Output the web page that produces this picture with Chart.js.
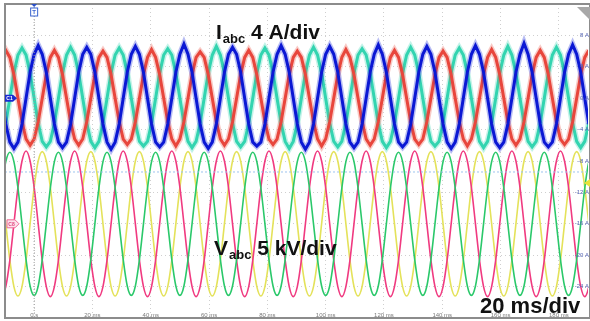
<!DOCTYPE html>
<html>
<head>
<meta charset="utf-8">
<script src="https://cdn.jsdelivr.net/npm/chart.js@4"></script>
<style>
  html, body { margin: 0; padding: 0; background: #fff; }
  #wrap { width: 590px; height: 321px; position: relative; }
</style>
</head>
<body>
<div id="wrap"><canvas id="scope"></canvas></div>
<script>
// scope capture: 12 samples per 60 Hz cycle, first sample at -11.11 ms
const sampleStart = -11.111;
const sampleStep = 1.3889;

const timeTicks = [0, 20, 40, 60, 80, 100, 120, 140, 160, 180];
const timeLabels = ['0 s', '20 ms', '40 ms', '60 ms', '80 ms', '100 ms', '120 ms', '140 ms', '160 ms', '180 ms'];
const ampTicks = [8, 4, 0, -4, -8, -12, -16, -20, -24];
const ampLabels = ['8 A', '4 A', '0 A', '-4 A', '-8 A', '-12 A', '-16 A', '-20 A', '-24 A'];
const trigLevel = -9.4;   // A scale, dotted blue line

// phase currents (A)
const iBlue = [
  0, -3.3, -5.6, -6.4, -5.6, -3.3, 0, 3.3,
  5.6, 6.7, 5.6, 3.3, 0, -3.3, -5.6, -6.3, -5.6, -3.3, 0, 3.3,
  5.6, 6.5, 5.6, 3.3, 0, -3.3, -5.6, -6.5, -5.6, -3.3, 0, 3.3,
  5.6, 6.6, 5.6, 3.3, 0, -3.3, -5.6, -6.2, -5.6, -3.3, 0, 3.3,
  5.6, 6.9, 5.6, 3.3, 0, -3.3, -5.6, -6.4, -5.6, -3.3, 0, 3.3,
  5.6, 6.5, 5.6, 3.3, 0, -3.3, -5.6, -6.1, -5.6, -3.3, 0, 3.3,
  5.6, 6.7, 5.6, 3.3, 0, -3.3, -5.6, -6.5, -5.6, -3.3, 0, 3.3,
  5.6, 6.6, 5.6, 3.3, 0, -3.3, -5.6, -6.3, -5.6, -3.3, 0, 3.3,
  5.6, 6.8, 5.6, 3.3, 0, -3.3, -5.6, -6.2, -5.6, -3.3, 0, 3.3,
  5.6, 6.6, 5.6, 3.3, 0, -3.3, -5.6, -6.4, -5.6, -3.3, 0, 3.3,
  5.6, 6.7, 5.6, 3.3, 0, -3.3, -5.6, -6.3, -5.6, -3.3, 0, 3.3,
  5.6, 7.0, 5.6, 3.3, 0, -3.3, -5.6, -6.2, -5.6, -3.3, 0, 3.3,
  5.6, 6.8, 5.6, 3.3, 0, -3.3, -5.6
];
const iTeal = [
  -5.5, -3.2, 0, 3.2, 5.5, 6.4, 5.5, 3.2,
  0, -3.2, -5.5, -6.2, -5.5, -3.2, 0, 3.2, 5.5, 6.5, 5.5, 3.2,
  0, -3.2, -5.5, -6.3, -5.5, -3.2, 0, 3.2, 5.5, 6.4, 5.5, 3.2,
  0, -3.2, -5.5, -6.1, -5.5, -3.2, 0, 3.2, 5.5, 6.3, 5.5, 3.2,
  0, -3.2, -5.5, -6.3, -5.5, -3.2, 0, 3.2, 5.5, 6.6, 5.5, 3.2,
  0, -3.2, -5.5, -6.2, -5.5, -3.2, 0, 3.2, 5.5, 6.4, 5.5, 3.2,
  0, -3.2, -5.5, -6.4, -5.5, -3.2, 0, 3.2, 5.5, 6.5, 5.5, 3.2,
  0, -3.2, -5.5, -6.2, -5.5, -3.2, 0, 3.2, 5.5, 6.3, 5.5, 3.2,
  0, -3.2, -5.5, -6.3, -5.5, -3.2, 0, 3.2, 5.5, 6.5, 5.5, 3.2,
  0, -3.2, -5.5, -6.1, -5.5, -3.2, 0, 3.2, 5.5, 6.4, 5.5, 3.2,
  0, -3.2, -5.5, -6.3, -5.5, -3.2, 0, 3.2, 5.5, 6.6, 5.5, 3.2,
  0, -3.2, -5.5, -6.2, -5.5, -3.2, 0, 3.2, 5.5, 6.5, 5.5, 3.2,
  0, -3.2, -5.5, -6.3, -5.5, -3.2, 0
];
const iRed = [
  5.2, 6.1, 5.2, 3.0, 0, -3.0, -5.2, -6.0,
  -5.2, -3.0, 0, 3.0, 5.2, 6.1, 5.2, 3.0, 0, -3.0, -5.2, -6.0,
  -5.2, -3.0, 0, 3.0, 5.2, 6.0, 5.2, 3.0, 0, -3.0, -5.2, -5.9,
  -5.2, -3.0, 0, 3.0, 5.2, 6.2, 5.2, 3.0, 0, -3.0, -5.2, -6.1,
  -5.2, -3.0, 0, 3.0, 5.2, 5.9, 5.2, 3.0, 0, -3.0, -5.2, -6.0,
  -5.2, -3.0, 0, 3.0, 5.2, 6.1, 5.2, 3.0, 0, -3.0, -5.2, -5.9,
  -5.2, -3.0, 0, 3.0, 5.2, 6.0, 5.2, 3.0, 0, -3.0, -5.2, -6.1,
  -5.2, -3.0, 0, 3.0, 5.2, 6.2, 5.2, 3.0, 0, -3.0, -5.2, -6.0,
  -5.2, -3.0, 0, 3.0, 5.2, 6.1, 5.2, 3.0, 0, -3.0, -5.2, -5.9,
  -5.2, -3.0, 0, 3.0, 5.2, 6.0, 5.2, 3.0, 0, -3.0, -5.2, -6.1,
  -5.2, -3.0, 0, 3.0, 5.2, 6.2, 5.2, 3.0, 0, -3.0, -5.2, -6.0,
  -5.2, -3.0, 0, 3.0, 5.2, 6.1, 5.2, 3.0, 0, -3.0, -5.2, -5.9,
  -5.2, -3.0, 0, 3.0, 5.2, 6.1, 5.2
];

// phase voltages (kV)
const vGreen = [
  5.7, 9.9, 11.4, 9.9, 5.7, 0, -5.7, -9.9,
  -11.4, -9.9, -5.7, 0, 5.7, 9.9, 11.4, 9.9, 5.7, 0, -5.7, -9.9,
  -11.4, -9.9, -5.7, 0, 5.7, 9.9, 11.4, 9.9, 5.7, 0, -5.7, -9.9,
  -11.4, -9.9, -5.7, 0, 5.7, 9.9, 11.4, 9.9, 5.7, 0, -5.7, -9.9,
  -11.4, -9.9, -5.7, 0, 5.7, 9.9, 11.4, 9.9, 5.7, 0, -5.7, -9.9,
  -11.4, -9.9, -5.7, 0, 5.7, 9.9, 11.4, 9.9, 5.7, 0, -5.7, -9.9,
  -11.4, -9.9, -5.7, 0, 5.7, 9.9, 11.4, 9.9, 5.7, 0, -5.7, -9.9,
  -11.4, -9.9, -5.7, 0, 5.7, 9.9, 11.4, 9.9, 5.7, 0, -5.7, -9.9,
  -11.4, -9.9, -5.7, 0, 5.7, 9.9, 11.4, 9.9, 5.7, 0, -5.7, -9.9,
  -11.4, -9.9, -5.7, 0, 5.7, 9.9, 11.4, 9.9, 5.7, 0, -5.7, -9.9,
  -11.4, -9.9, -5.7, 0, 5.7, 9.9, 11.4, 9.9, 5.7, 0, -5.7, -9.9,
  -11.4, -9.9, -5.7, 0, 5.7, 9.9, 11.4, 9.9, 5.7, 0, -5.7, -9.9,
  -11.4, -9.9, -5.7, 0, 5.7, 9.9, 11.4
];
const vYellow = [
  5.8, 0, -5.8, -10, -11.5, -10, -5.8, 0,
  5.8, 10, 11.5, 10, 5.8, 0, -5.8, -10, -11.5, -10, -5.8, 0,
  5.8, 10, 11.5, 10, 5.8, 0, -5.8, -10, -11.5, -10, -5.8, 0,
  5.8, 10, 11.5, 10, 5.8, 0, -5.8, -10, -11.5, -10, -5.8, 0,
  5.8, 10, 11.5, 10, 5.8, 0, -5.8, -10, -11.5, -10, -5.8, 0,
  5.8, 10, 11.5, 10, 5.8, 0, -5.8, -10, -11.5, -10, -5.8, 0,
  5.8, 10, 11.5, 10, 5.8, 0, -5.8, -10, -11.5, -10, -5.8, 0,
  5.8, 10, 11.5, 10, 5.8, 0, -5.8, -10, -11.5, -10, -5.8, 0,
  5.8, 10, 11.5, 10, 5.8, 0, -5.8, -10, -11.5, -10, -5.8, 0,
  5.8, 10, 11.5, 10, 5.8, 0, -5.8, -10, -11.5, -10, -5.8, 0,
  5.8, 10, 11.5, 10, 5.8, 0, -5.8, -10, -11.5, -10, -5.8, 0,
  5.8, 10, 11.5, 10, 5.8, 0, -5.8, -10, -11.5, -10, -5.8, 0,
  5.8, 10, 11.5, 10, 5.8, 0, -5.8
];
const vPink = [
  -11.6, -10, -5.8, 0, 5.8, 10, 11.6, 10,
  5.8, 0, -5.8, -10, -11.6, -10, -5.8, 0, 5.8, 10, 11.6, 10,
  5.8, 0, -5.8, -10, -11.6, -10, -5.8, 0, 5.8, 10, 11.6, 10,
  5.8, 0, -5.8, -10, -11.6, -10, -5.8, 0, 5.8, 10, 11.6, 10,
  5.8, 0, -5.8, -10, -11.6, -10, -5.8, 0, 5.8, 10, 11.6, 10,
  5.8, 0, -5.8, -10, -11.6, -10, -5.8, 0, 5.8, 10, 11.6, 10,
  5.8, 0, -5.8, -10, -11.6, -10, -5.8, 0, 5.8, 10, 11.6, 10,
  5.8, 0, -5.8, -10, -11.6, -10, -5.8, 0, 5.8, 10, 11.6, 10,
  5.8, 0, -5.8, -10, -11.6, -10, -5.8, 0, 5.8, 10, 11.6, 10,
  5.8, 0, -5.8, -10, -11.6, -10, -5.8, 0, 5.8, 10, 11.6, 10,
  5.8, 0, -5.8, -10, -11.6, -10, -5.8, 0, 5.8, 10, 11.6, 10,
  5.8, 0, -5.8, -10, -11.6, -10, -5.8, 0, 5.8, 10, 11.6, 10,
  5.8, 0, -5.8, -10, -11.6, -10, -5.8
];

function toPoints(vals) {
  return vals.map((v, i) => ({ x: sampleStart + i * sampleStep, y: v }));
}

function currentSet(vals, color, glow) {
  return [
    { data: toPoints(vals), yAxisID: 'y', borderColor: color, borderWidth: 3, tension: 0 },
    { data: toPoints(vals), yAxisID: 'y', borderColor: glow, borderWidth: 6, tension: 0 }
  ];
}

function voltageSet(vals, color) {
  return { data: toPoints(vals), yAxisID: 'yV', borderColor: color, borderWidth: 1.6, cubicInterpolationMode: 'monotone' };
}

const FONT = '"Liberation Sans", Arial, sans-serif';

function drawTag(ctx, x, y, w, h, fill, stroke, text, textColor) {
  ctx.beginPath();
  ctx.moveTo(x, y - h / 2);
  ctx.lineTo(x + w - 4, y - h / 2);
  ctx.lineTo(x + w, y);
  ctx.lineTo(x + w - 4, y + h / 2);
  ctx.lineTo(x, y + h / 2);
  ctx.closePath();
  ctx.fillStyle = fill;
  ctx.fill();
  if (stroke) { ctx.strokeStyle = stroke; ctx.lineWidth = 1; ctx.stroke(); }
  ctx.fillStyle = textColor;
  ctx.font = 'bold 5px ' + FONT;
  ctx.textAlign = 'center';
  ctx.textBaseline = 'middle';
  ctx.fillText(text, x + (w - 3) / 2, y + 0.5);
}

function drawLabel(ctx, x, y, main, sub, rest, size) {
  ctx.fillStyle = '#111';
  ctx.textAlign = 'left';
  ctx.textBaseline = 'alphabetic';
  ctx.font = 'bold ' + size + 'px ' + FONT;
  ctx.fillText(main, x, y);
  let cx = x + ctx.measureText(main).width;
  if (sub) {
    ctx.font = 'bold ' + Math.round(size * 0.62) + 'px ' + FONT;
    ctx.fillText(sub, cx + 1, y + 4);
    cx += ctx.measureText(sub).width + 1;
    ctx.font = 'bold ' + size + 'px ' + FONT;
  }
  ctx.fillText(rest, cx, y);
}

const scopeDecor = {
  id: 'scopeDecor',
  afterDraw(chart) {
    const ctx = chart.ctx;
    const a = chart.chartArea;
    const xs = chart.scales.x, ys = chart.scales.y;
    ctx.save();

    // trigger position line
    const x0 = xs.getPixelForValue(0);
    ctx.strokeStyle = '#9a9a9a';
    ctx.lineWidth = 1;
    ctx.setLineDash([1, 2]);
    ctx.beginPath();
    ctx.moveTo(x0, a.top);
    ctx.lineTo(x0, a.bottom);
    ctx.stroke();

    // trigger level
    const yl = ys.getPixelForValue(trigLevel);
    ctx.strokeStyle = '#9cc3ee';
    ctx.setLineDash([2, 2]);
    ctx.beginPath();
    ctx.moveTo(a.left, yl);
    ctx.lineTo(a.right, yl);
    ctx.stroke();
    ctx.setLineDash([]);

    // frame
    ctx.strokeStyle = '#8c8c8c';
    ctx.lineWidth = 2;
    ctx.strokeRect(a.left, a.top, a.right - a.left + 2, a.bottom - a.top);

    // axis tick labels inside the screen
    ctx.font = '6px ' + FONT;
    ctx.fillStyle = '#7a7a7a';
    ctx.textAlign = 'center';
    ctx.textBaseline = 'middle';
    timeTicks.forEach((v, i) => ctx.fillText(timeLabels[i], xs.getPixelForValue(v), a.bottom - 3));
    ctx.fillStyle = '#5464b4';
    ctx.textAlign = 'right';
    ampTicks.forEach((v, i) => ctx.fillText(ampLabels[i], 589, ys.getPixelForValue(v)));

    // channel tags
    drawTag(ctx, a.left, ys.getPixelForValue(0), 12, 7, '#1a2bd0', null, 'C1', '#fff');
    drawTag(ctx, a.left + 2, ys.getPixelForValue(-16), 12, 8, '#fde3ec', '#ee6a98', 'C8', '#e0457e');

    // trigger marker
    ctx.fillStyle = '#2a50c8';
    ctx.beginPath();
    ctx.moveTo(x0 - 3, a.top);
    ctx.lineTo(x0 + 3, a.top);
    ctx.lineTo(x0, a.top + 3);
    ctx.closePath();
    ctx.fill();
    ctx.fillStyle = '#fff';
    ctx.strokeStyle = '#3a64d0';
    ctx.lineWidth = 1;
    ctx.fillRect(x0 - 3.5, a.top + 4, 7, 8);
    ctx.strokeRect(x0 - 3.5, a.top + 4, 7, 8);
    ctx.fillStyle = '#3a64d0';
    ctx.font = 'bold 6px ' + FONT;
    ctx.textAlign = 'center';
    ctx.fillText('T', x0, a.top + 8.5);

    // level marker on the right
    const ym = ys.getPixelForValue(-10.8);
    ctx.fillStyle = '#e8e23a';
    ctx.beginPath();
    ctx.moveTo(584, ym);
    ctx.lineTo(590, ym - 4);
    ctx.lineTo(590, ym + 4);
    ctx.closePath();
    ctx.fill();

    // corner fold
    ctx.fillStyle = '#a8a8a8';
    ctx.beginPath();
    ctx.moveTo(577, a.top + 3);
    ctx.lineTo(590, a.top + 3);
    ctx.lineTo(590, a.top + 16);
    ctx.closePath();
    ctx.fill();

    // scale annotations
    drawLabel(ctx, 216, 39, 'I', 'abc', ' 4 A/div', 21);
    drawLabel(ctx, 214, 255, 'V', 'abc', ' 5 kV/div', 21);
    drawLabel(ctx, 480, 313, '20 ms/div', null, '', 22);

    ctx.restore();
  }
};

new Chart(document.getElementById('scope'), {
  type: 'line',
  data: {
    datasets: [
      ...currentSet(iBlue, '#0b18d4', 'rgba(20,35,215,0.3)'),
      ...currentSet(iRed, '#e8463c', 'rgba(232,80,66,0.3)'),
      ...currentSet(iTeal, '#33d4b0', 'rgba(55,212,178,0.3)'),
      voltageSet(vGreen, '#2ac86a'),
      voltageSet(vPink, '#f03a80'),
      voltageSet(vYellow, '#e4e25a')
    ]
  },
  options: {
    responsive: true,
    maintainAspectRatio: false,
    animation: false,
    layout: { padding: { left: 5, right: 2, top: 4, bottom: 3 } },
    elements: { point: { radius: 0 } },
    plugins: { legend: { display: false }, tooltip: { enabled: false } },
    scales: {
      x: {
        type: 'linear',
        min: -10,
        max: 190,
        afterBuildTicks: axis => { axis.ticks = timeTicks.map(v => ({ value: v })); },
        ticks: { display: false },
        grid: { color: '#cfcfcf', drawTicks: false },
        border: { display: false, dash: [1, 3] }
      },
      y: {
        min: -28,
        max: 12,
        ticks: { display: false, stepSize: 4 },
        grid: { color: '#cfcfcf', drawTicks: false },
        border: { display: false, dash: [1, 3] }
      },
      yV: {
        display: false,
        min: -15,
        max: 35
      }
    }
  },
  plugins: [scopeDecor]
});
</script>
</body>
</html>
